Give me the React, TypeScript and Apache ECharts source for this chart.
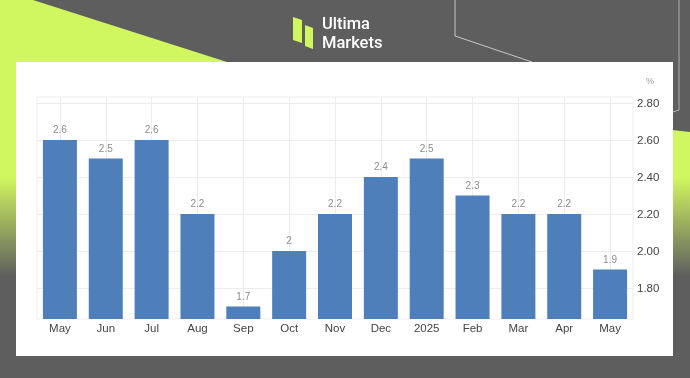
import React, { useEffect, useRef } from "react";
import * as echarts from "echarts";

const categories = ["May", "Jun", "Jul", "Aug", "Sep", "Oct", "Nov", "Dec", "2025", "Feb", "Mar", "Apr", "May"];
const values = [2.6, 2.5, 2.6, 2.2, 1.7, 2, 2.2, 2.4, 2.5, 2.3, 2.2, 2.2, 1.9];
const yTicks = [1.8, 2.0, 2.2, 2.4, 2.6, 2.8];
const yMin = 1.632;
const yMax = 2.832;
const unitLabel = "%";
const brandLines = ["Ultima", "Markets"];

const LIME = "#d0f660";
const GRAY = "#5e5e5e";

export default function App() {
  const ref = useRef<HTMLDivElement>(null);

  useEffect(() => {
    if (!ref.current) return;
    const chart = echarts.init(ref.current, null, { renderer: "svg" });

    const gridLines = [
      ...yTicks.map((v) => ({ yAxis: v })),
      ...categories.map((_, i) => ({ xAxis: i })),
    ];

    chart.setOption({
      animation: false,
      graphic: [
        { type: "rect", shape: { x: 0, y: 0, width: 690, height: 378 }, style: { fill: GRAY } },
        {
          type: "polygon",
          shape: {
            points: [
              [0, 0], [33, 0], [227, 62], [600, 122], [690, 132], [690, 378], [0, 378],
            ],
          },
          style: {
            fill: new echarts.graphic.LinearGradient(0, 0, 0, 1, [
              { offset: 0, color: LIME },
              { offset: 0.47, color: LIME },
              { offset: 0.73, color: GRAY },
              { offset: 1, color: GRAY },
            ]),
          },
        },
        {
          type: "polyline",
          shape: { points: [[455, 0], [455, 36], [532, 62]] },
          style: { stroke: "#c8c8c8", lineWidth: 1, fill: null },
        },
        {
          type: "polyline",
          shape: { points: [[679, 0], [679, 110], [673, 112]] },
          style: { stroke: "#b0b0b0", lineWidth: 1, fill: null },
        },
        { type: "rect", shape: { x: 16, y: 62, width: 657, height: 294 }, style: { fill: "#ffffff" } },
        {
          type: "polygon",
          shape: { points: [[293, 17], [302, 20], [302, 43], [293, 40]] },
          style: { fill: LIME },
        },
        {
          type: "polygon",
          shape: { points: [[305, 25], [313, 28], [313, 49], [305, 46]] },
          style: { fill: LIME },
        },
        {
          type: "text",
          x: 322,
          y: 14.5,
          style: {
            text: brandLines[0],
            fill: "#ffffff",
            font: "500 16.5px Roboto",
            textVerticalAlign: "top",
          },
        },
        {
          type: "text",
          x: 322,
          y: 34,
          style: {
            text: brandLines[1],
            fill: "#ffffff",
            font: "500 16.5px Roboto",
            textVerticalAlign: "top",
          },
        },
        {
          type: "text",
          x: 646,
          y: 76,
          style: {
            text: unitLabel,
            fill: "#9a9a9a",
            font: "9px 'Liberation Sans'",
          },
        },
      ],
      grid: {
        left: 37,
        right: 57,
        top: 97,
        bottom: 59,
        show: true,
        borderColor: "#eeeeee",
        borderWidth: 1,
        backgroundColor: "transparent",
        z: 1,
      },
      xAxis: {
        type: "category",
        data: categories,
        z: 3,
        axisLine: { show: false },
        axisTick: { show: false },
        splitLine: { show: false },
        axisLabel: {
          color: "#444444",
          fontSize: 11.5,
          fontFamily: "'Liberation Sans', Arial",
          margin: 3,
          interval: 0,
        },
      },
      yAxis: {
        type: "value",
        position: "right",
        min: yMin,
        max: yMax,
        z: 3,
        axisLine: { show: false },
        axisTick: { show: false, customValues: yTicks },
        splitLine: { show: false },
        axisLabel: {
          customValues: yTicks,
          color: "#444444",
          fontSize: 11.5,
          fontFamily: "'Liberation Sans', Arial",
          margin: 4,
          formatter: (v: number) => v.toFixed(2),
        },
      },
      series: [
        {
          type: "bar",
          data: values,
          barWidth: 34,
          z: 2,
          itemStyle: { color: "#4e7fbb" },
          label: {
            show: true,
            position: "top",
            distance: 5,
            color: "#8c8c8c",
            fontSize: 10,
            fontFamily: "'Liberation Sans', Arial",
          },
          markLine: {
            silent: true,
            symbol: "none",
            z: 1,
            label: { show: false },
            lineStyle: { color: "#ececec", type: "solid", width: 1 },
            emphasis: { disabled: true },
            data: gridLines,
          },
        },
      ],
    });

    return () => chart.dispose();
  }, []);

  return (
    <div
      ref={ref}
      style={{ position: "fixed", left: 0, top: 0, width: 690, height: 378 }}
    />
  );
}
